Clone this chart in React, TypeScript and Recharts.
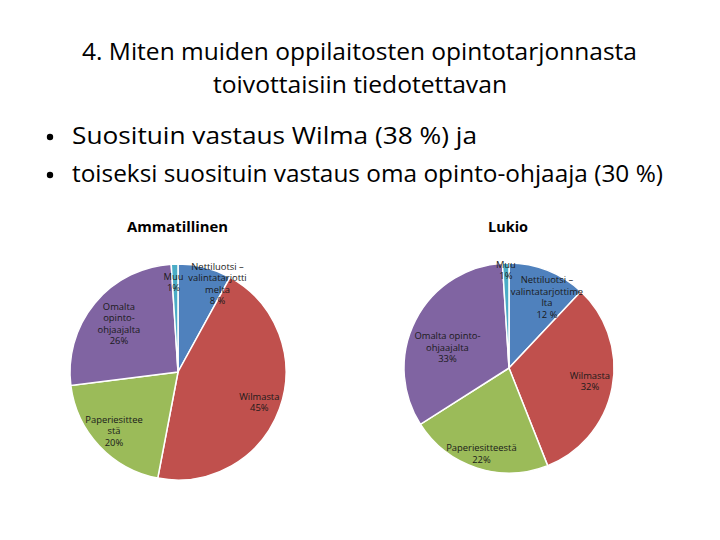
import { PieChart, Pie, Cell } from "recharts";

// Ammatillinen (vocational) answers, clockwise from 12 o'clock
const ammCategories = [
  ["Nettiluotsi –", "valintatarjotti", "melta"],
  ["Wilmasta"],
  ["Paperiesittee", "stä"],
  ["Omalta", "opinto-", "ohjaajalta"],
  ["Muu"],
];
const ammValues = [8, 45, 20, 26, 1];
const ammPercents = ["8 %", "45%", "20%", "26%", "1%"];

// Lukio (upper secondary) answers
const lukioCategories = [
  ["Nettiluotsi –", "valintatarjottime", "lta"],
  ["Wilmasta"],
  ["Paperiesitteestä"],
  ["Omalta opinto-", "ohjaajalta"],
  ["Muu"],
];
const lukioValues = [12, 32, 22, 33, 1];
const lukioPercents = ["12 %", "32%", "22%", "33%", "1%"];

const sliceColors = ["#4F81BD", "#C0504D", "#9BBB59", "#8064A2", "#4BACC6"];

// label placement like Excel's best fit: radius fraction + clockwise nudge (deg)
const ammLabelPos = [
  { f: 0.9, d: 9.6 },
  { f: 0.8, d: 0 },
  { f: 0.8, d: 1 },
  { f: 0.71, d: 0 },
  { f: 0.84, d: -1 },
];
const lukioLabelPos = [
  { f: 0.77, d: 6.4 },
  { f: 0.78, d: -2 },
  { f: 0.85, d: 0 },
  { f: 0.62, d: -8 },
  { f: 0.94, d: 0 },
];

const RAD = Math.PI / 180;
const labelFont = "'Open Sans', sans-serif";
const titleFont = "'Open Sans', 'Noto Sans', sans-serif";

function makeRows(cats: string[][], values: number[], percents: string[]) {
  return cats.map((lines, i) => ({
    name: lines.join(" "),
    lines,
    value: values[i],
    pct: percents[i],
  }));
}

const ammData = makeRows(ammCategories, ammValues, ammPercents);
const lukioData = makeRows(lukioCategories, lukioValues, lukioPercents);

function labelRenderer(pos: { f: number; d: number }[]) {
  return (props: any) => {
    const { cx, cy, midAngle, outerRadius, index, payload } = props;
    const p = pos[index];
    const a = (midAngle - p.d) * RAD;
    const r = outerRadius * p.f;
    const x = cx + r * Math.cos(a);
    const y = cy - r * Math.sin(a);
    const lines: string[] = [...(payload.lines ?? props.lines), payload.pct ?? props.pct];
    const lh = 11.5;
    const top = y - ((lines.length - 1) * lh) / 2;
    return (
      <text
        x={x}
        y={top}
        textAnchor="middle"
        dominantBaseline="central"
        fontFamily={labelFont}
        fontSize={9.4}
        fill="#1a1a1a"
      >
        {lines.map((t, k) => (
          <tspan key={k} x={x} y={top + k * lh} dominantBaseline="central">
            {t}
          </tspan>
        ))}
      </text>
    );
  };
}

export default function App() {
  return (
    <div
      style={{
        position: "absolute",
        left: 0,
        top: 0,
        width: 720,
        height: 540,
        background: "#ffffff",
        overflow: "hidden",
      }}
    >
      <PieChart
        width={720}
        height={540}
        margin={{ top: 0, right: 0, bottom: 0, left: 0 }}
        style={{ position: "absolute", left: 0, top: 0 }}
      >
        <Pie
          data={ammData}
          dataKey="value"
          nameKey="name"
          cx={178}
          cy={372}
          outerRadius={108}
          startAngle={90}
          endAngle={-270}
          stroke="#ffffff"
          strokeWidth={1.5}
          labelLine={false}
          label={labelRenderer(ammLabelPos)}
          isAnimationActive={false}
        >
          {ammData.map((_, i) => (
            <Cell key={i} fill={sliceColors[i]} />
          ))}
        </Pie>
        <Pie
          data={lukioData}
          dataKey="value"
          nameKey="name"
          cx={509}
          cy={368}
          outerRadius={105}
          startAngle={90}
          endAngle={-270}
          stroke="#ffffff"
          strokeWidth={1.5}
          labelLine={false}
          label={labelRenderer(lukioLabelPos)}
          isAnimationActive={false}
        >
          {lukioData.map((_, i) => (
            <Cell key={i} fill={sliceColors[i]} />
          ))}
        </Pie>
      </PieChart>

      <svg
        width={720}
        height={540}
        style={{ position: "absolute", left: 0, top: 0, pointerEvents: "none" }}
      >
        <g fontFamily={titleFont} fill="#000">
          <text x={82} y={60} fontSize={23} textLength={555} lengthAdjust="spacingAndGlyphs">
            4. Miten muiden oppilaitosten opintotarjonnasta
          </text>
          <text x={213} y={93} fontSize={23} textLength={294} lengthAdjust="spacingAndGlyphs">
            toivottaisiin tiedotettavan
          </text>
          <circle cx={50} cy={137} r={3.2} />
          <text x={72} y={144} fontSize={24} textLength={405} lengthAdjust="spacingAndGlyphs">
            Suosituin vastaus Wilma (38 %) ja
          </text>
          <circle cx={50} cy={175} r={3.2} />
          <text x={72} y={182} fontSize={24} textLength={591} lengthAdjust="spacingAndGlyphs">
            toiseksi suosituin vastaus oma opinto-ohjaaja (30 %)
          </text>
          <text x={127} y={232} fontSize={14} fontWeight="bold" textLength={101} lengthAdjust="spacingAndGlyphs">
            Ammatillinen
          </text>
          <text x={488} y={232} fontSize={14} fontWeight="bold" textLength={40} lengthAdjust="spacingAndGlyphs">
            Lukio
          </text>
        </g>
      </svg>
    </div>
  );
}
